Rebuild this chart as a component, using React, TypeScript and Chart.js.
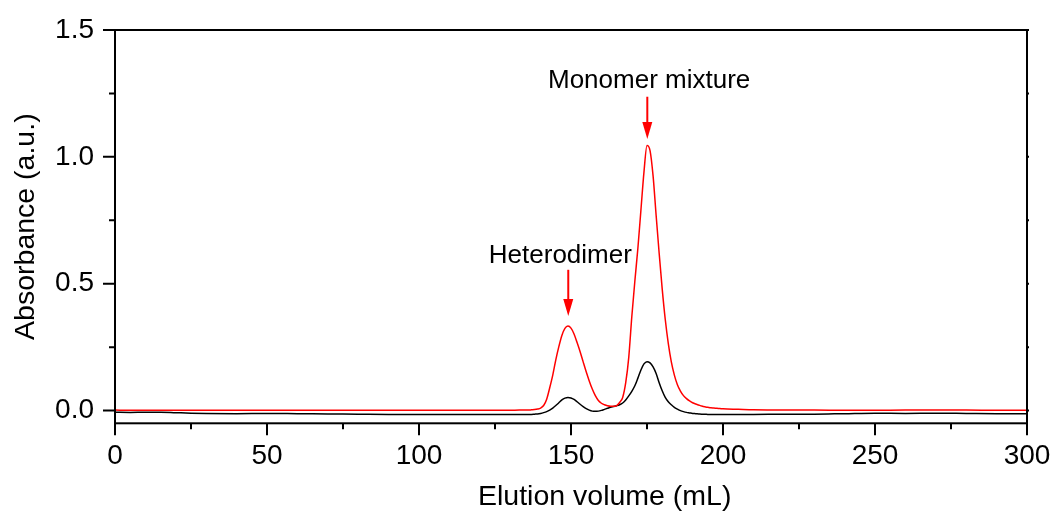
import React, { useEffect, useRef } from "react";
import { Chart, registerables } from "chart.js";

Chart.register(...registerables);

// ---------- data ----------
const volume = [
  0, 5, 10, 15, 20, 25, 30, 40, 50, 60, 70, 80, 90, 100, 110, 120, 130, 133,
  136, 137, 138, 139, 140, 141, 142, 143, 144, 145, 146, 147, 148, 149, 150,
  151, 152, 153, 154, 155, 156, 157, 158, 159, 160, 161, 162, 163, 164, 165,
  166, 167, 168, 169, 170, 171, 172, 173, 174, 175, 176, 177, 178, 179, 180,
  181, 182, 183, 184, 185, 186, 187, 188, 189, 190, 191, 192, 193, 194, 195,
  196, 197, 198, 199, 200, 205, 210, 220, 230, 240, 250, 260, 270, 280, 290, 300,
];

const mixtureAbs = [
  0.002, 0.001, 0.001, 0.001, 0.001, 0.001, 0.001, 0.001, 0.001, 0.001, 0.001, 0.001, 0.001, 0.001, 0.001, 0.001, 0.001, 0.002,
  0.002, 0.003, 0.004, 0.006, 0.010, 0.020, 0.045, 0.090, 0.140, 0.200, 0.252, 0.296, 0.324, 0.333, 0.325,
  0.302, 0.268, 0.232, 0.192, 0.153, 0.117, 0.085, 0.059, 0.040, 0.029, 0.023, 0.019, 0.017, 0.017, 0.020,
  0.032, 0.052, 0.110, 0.210, 0.370, 0.510, 0.640, 0.790, 0.940, 1.045, 1.025, 0.925, 0.770, 0.620, 0.480,
  0.360, 0.265, 0.192, 0.140, 0.102, 0.077, 0.059, 0.047, 0.038, 0.031, 0.026, 0.022, 0.018, 0.015, 0.013,
  0.011, 0.010, 0.009, 0.008, 0.007, 0.005, 0.003, 0.002, 0.002, 0.001, 0.001, 0.002, 0.002, 0.002, 0.001, 0.001,
];

const heterodimerAbs = [
  -0.006, -0.007, -0.006, -0.006, -0.008, -0.010, -0.011, -0.012, -0.011, -0.012, -0.013, -0.014, -0.015, -0.015, -0.015, -0.015, -0.015, -0.015,
  -0.015, -0.015, -0.014, -0.013, -0.011, -0.008, -0.004, 0.002, 0.010, 0.020, 0.031, 0.042, 0.049, 0.052, 0.050,
  0.044, 0.035, 0.025, 0.016, 0.008, 0.002, -0.002, -0.003, -0.002, 0.001, 0.005, 0.009, 0.013, 0.016, 0.019,
  0.023, 0.030, 0.042, 0.058, 0.076, 0.098, 0.128, 0.160, 0.184, 0.193, 0.188, 0.172, 0.146, 0.110, 0.078,
  0.052, 0.035, 0.023, 0.013, 0.006, 0.000, -0.004, -0.007, -0.009, -0.011, -0.012, -0.013, -0.014, -0.014, -0.015,
  -0.015, -0.015, -0.015, -0.015, -0.015, -0.015, -0.015, -0.014, -0.014, -0.012, -0.010, -0.011, -0.010, -0.011, -0.012, -0.012,
];

const xMajorTicks = [0, 50, 100, 150, 200, 250, 300];
const xMinorTicks = [25, 75, 125, 175, 225, 275];
const yMajorTicks = [0, 0.5, 1.0, 1.5];
const yMinorTicks = [0.25, 0.75, 1.25];

const xTitle = "Elution volume (mL)";
const yTitle = "Absorbance (a.u.)";

// annotation labels: text, arrow x (mL), text y, arrow start y, arrow tip y (a.u.)
const annotationLabels = ["Heterodimer", "Monomer mixture"];
const annotationTextX = [146.5, 175.7];
const annotationArrowX = [149.1, 175.1];
const annotationTextY = [0.582, 1.27];
const annotationArrowTop = [0.555, 1.237];
const annotationArrowTip = [0.373, 1.07];

const FONT = '"Liberation Sans", Arial, Helvetica, sans-serif';

const decorPlugin = {
  id: "decor",
  afterDatasetsDraw(chart: any) {
    const ctx = chart.ctx;
    const { left, right, top, bottom } = chart.chartArea;
    const xs = chart.scales.x;
    const ys = chart.scales.y;
    ctx.save();
    // frame
    ctx.strokeStyle = "#000";
    ctx.lineWidth = 2;
    ctx.strokeRect(left, top, right - left, bottom - top);
    // tick marks
    ctx.beginPath();
    yMajorTicks.forEach((v) => {
      const p = ys.getPixelForValue(v);
      ctx.moveTo(left - 12, p);
      ctx.lineTo(left, p);
    });
    yMinorTicks.forEach((v) => {
      const p = ys.getPixelForValue(v);
      ctx.moveTo(left - 6, p);
      ctx.lineTo(left, p);
    });
    [...yMajorTicks, ...yMinorTicks].forEach((v) => {
      const p = ys.getPixelForValue(v);
      ctx.moveTo(right, p);
      ctx.lineTo(right + 2, p);
    });
    xMajorTicks.forEach((v) => {
      const p = xs.getPixelForValue(v);
      ctx.moveTo(p, bottom);
      ctx.lineTo(p, bottom + 12);
    });
    xMinorTicks.forEach((v) => {
      const p = xs.getPixelForValue(v);
      ctx.moveTo(p, bottom);
      ctx.lineTo(p, bottom + 6);
    });
    ctx.stroke();

    // axis titles
    ctx.fillStyle = "#000";
    ctx.font = `28.5px ${FONT}`;
    ctx.textBaseline = "alphabetic";
    ctx.textAlign = "left";
    ctx.fillText(xTitle, 478, 505);
    ctx.save();
    ctx.translate(33.5, (top + bottom) / 2);
    ctx.rotate(-Math.PI / 2);
    ctx.textAlign = "center";
    ctx.fillText(yTitle, 0, 0);
    ctx.restore();

    // annotations
    ctx.font = `26px ${FONT}`;
    ctx.textAlign = "center";
    annotationLabels.forEach((label, i) => {
      ctx.fillStyle = "#000";
      ctx.fillText(label, xs.getPixelForValue(annotationTextX[i]), ys.getPixelForValue(annotationTextY[i]));
      const ax = xs.getPixelForValue(annotationArrowX[i]);
      const y0 = ys.getPixelForValue(annotationArrowTop[i]);
      const y1 = ys.getPixelForValue(annotationArrowTip[i]);
      ctx.strokeStyle = "#ff0000";
      ctx.fillStyle = "#ff0000";
      ctx.lineWidth = 2;
      ctx.beginPath();
      ctx.moveTo(ax, y0);
      ctx.lineTo(ax, y1 - 14);
      ctx.stroke();
      ctx.beginPath();
      ctx.moveTo(ax - 5, y1 - 17);
      ctx.lineTo(ax + 5, y1 - 17);
      ctx.lineTo(ax, y1);
      ctx.closePath();
      ctx.fill();
    });
    ctx.restore();
  },
};

const zeroPadding = (s: any) => {
  s.paddingTop = 0;
  s.paddingBottom = 0;
  s.paddingLeft = 0;
  s.paddingRight = 0;
};

export default function App() {
  const canvasRef = useRef<HTMLCanvasElement | null>(null);

  useEffect(() => {
    if (!canvasRef.current) return;
    Chart.defaults.font.family = FONT;
    const chart = new Chart(canvasRef.current, {
      type: "line",
      data: {
        datasets: [
          {
            label: "Monomer mixture",
            data: volume.map((x, i) => ({ x, y: mixtureAbs[i] })),
            borderColor: "#ff0000",
            borderWidth: 1.5,
            pointRadius: 0,
            cubicInterpolationMode: "monotone",
            fill: false,
          },
          {
            label: "Heterodimer",
            data: volume.map((x, i) => ({ x, y: heterodimerAbs[i] })),
            borderColor: "#000000",
            borderWidth: 1.5,
            pointRadius: 0,
            cubicInterpolationMode: "monotone",
            fill: false,
          },
        ],
      },
      options: {
        responsive: false,
        animation: false,
        events: [],
        layout: { padding: { top: 30, right: 29, left: 0, bottom: 0 } },
        plugins: {
          legend: { display: false },
          tooltip: { enabled: false },
        },
        scales: {
          x: {
            type: "linear",
            min: 0,
            max: 300,
            bounds: "data",
            grid: { display: false, drawTicks: false },
            border: { display: false },
            ticks: {
              color: "#000",
              font: { size: 28, family: FONT },
              padding: 16,
              maxRotation: 0,
              autoSkip: false,
              callback: (v: any) => String(v),
            },
            afterBuildTicks: (s: any) => {
              s.ticks = xMajorTicks.map((v) => ({ value: v }));
            },
            afterFit: (s: any) => {
              s.height = 90.7;
              zeroPadding(s);
            },
          },
          y: {
            type: "linear",
            min: -0.05,
            max: 1.5,
            bounds: "data",
            grid: { display: false, drawTicks: false },
            border: { display: false },
            ticks: {
              color: "#000",
              font: { size: 28, family: FONT },
              padding: 21,
              autoSkip: false,
              callback: (v: any) => Number(v).toFixed(1),
            },
            afterBuildTicks: (s: any) => {
              s.ticks = yMajorTicks.map((v) => ({ value: v }));
            },
            afterFit: (s: any) => {
              s.width = 115;
              zeroPadding(s);
            },
          },
        },
      },
      plugins: [decorPlugin],
    });
    return () => chart.destroy();
  }, []);

  return (
    <div style={{ position: "absolute", left: 0, top: 0, width: 1056, height: 514, background: "#fff" }}>
      <canvas ref={canvasRef} width={1056} height={514} style={{ display: "block" }} />
    </div>
  );
}
